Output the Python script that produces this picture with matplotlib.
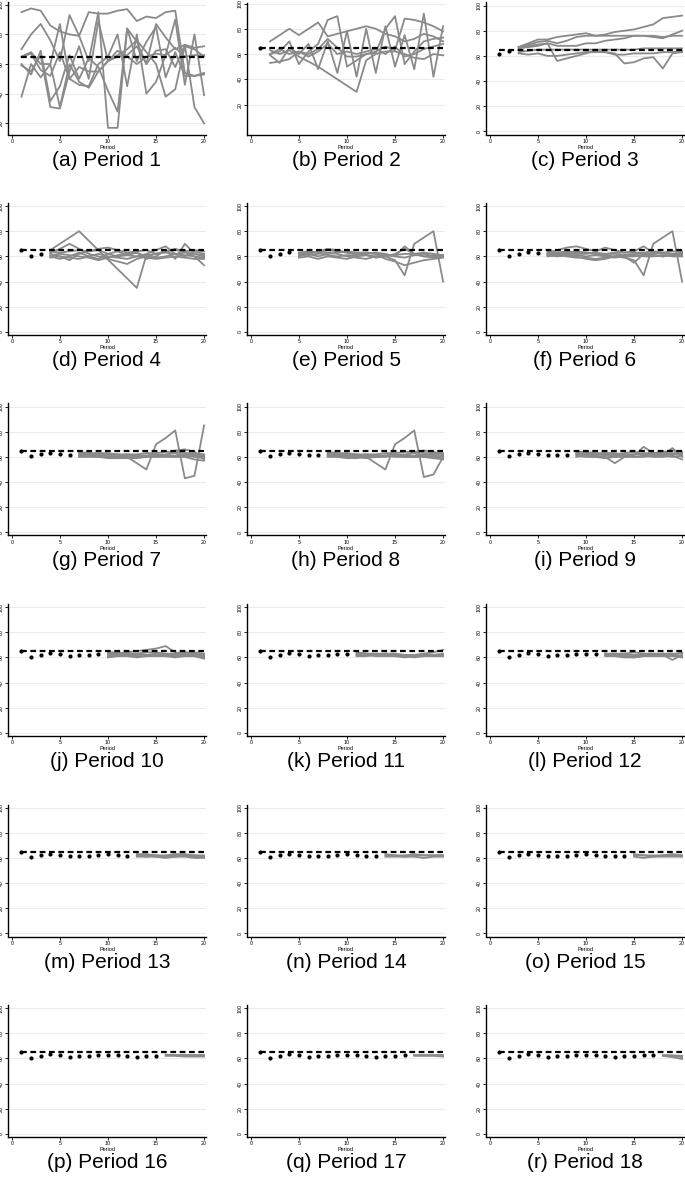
import matplotlib
matplotlib.use("Agg")
import matplotlib.pyplot as plt

plt.rcParams['font.family'] = ['Liberation Sans', 'DejaVu Sans']

periods = list(range(1, 21))
target = 65
realized = [65, 60.5, 62, 63.2, 62.7, 61.3, 61.9, 61.9, 62.7, 62.9, 62.4,
            61.9, 61.3, 61.9, 61.9, 62.4, 62.7]
realized_c = [61.6, 63.5]
letters = list("abcdefghijklmnopqr")

fc_p1 = [
    [95, 97.5, 96, 86, 82, 80, 79, 95, 94, 94, 96, 97, 89, 92, 91, 95, 96, 54, 52, 54],
    [70, 80, 87, 76, 62, 93, 79, 62, 95, 17, 17, 84, 75, 60, 87, 78, 70, 73, 71, 72],
    [65, 67, 56, 52, 68, 50, 46, 45, 60, 65, 80, 45, 80, 40, 48, 66, 90, 46, 80, 39],
    [60, 53, 69, 35, 45, 66, 50, 64, 58, 42, 28, 84, 62, 75, 85, 51, 68, 52, 52, 53],
    [38, 60, 51, 60, 31, 60, 48, 44, 55, 62, 66, 70, 76, 68, 60, 38, 43, 72, 70, 65],
    [59, 55, 66, 31, 30, 55, 72, 50, 89, 62, 65, 66, 72, 60, 69, 70, 58, 73, 31, 20],
    [65, 68, 60, 60, 87, 50, 58, 55, 55, 62, 69, 65, 60, 65, 67, 66, 71, 65, 66, 66],
]
fc_p2 = [
    [70, 75, 80, 75, 80, 85, 74, 76, 78, 80, 82, 80, 76, 74, 70, 72, 76, 74, 70],
    [60, 62, 70, 52, 62, 68, 87, 90, 50, 55, 60, 61, 80, 90, 52, 62, 70, 72, 73],
    [63, 60, 63, 58, 54, 50, 45, 40, 35, 30, 55, 60, 62, 62, 60, 57, 56, 60, 59],
    [59, 53, 65, 60, 68, 48, 70, 45, 78, 42, 80, 45, 82, 50, 75, 48, 92, 42, 82],
    [53, 54, 56, 62, 60, 64, 72, 65, 58, 58, 60, 62, 66, 63, 88, 87, 85, 82, 78],
    [60, 64, 60, 62, 58, 62, 68, 60, 62, 60, 62, 64, 60, 66, 58, 60, 64, 66, 68],
]
fc_p3 = [
    [67, 70, 73, 73, 75, 76, 77, 78, 76, 77, 79, 80, 81, 83, 85, 90, 91, 92],
    [67, 69, 71, 72, 70, 72, 75, 76, 76, 76, 76, 76, 76, 76, 76, 75, 76, 76],
    [66, 67, 68, 70, 68, 68, 68, 70, 70, 72, 73, 74, 76, 76, 75, 74, 77, 80],
    [67, 68, 69, 70, 56, 58, 60, 62, 64, 63, 62, 54, 55, 58, 59, 50, 62, 63],
    [62, 61, 62, 60, 60, 61, 62, 63, 63, 63, 61, 61, 62, 62, 62, 63, 63, 64],
    [63, 64, 65, 65, 65, 65, 65, 65, 65, 65, 65, 65, 65, 66, 66, 66, 66, 66],
]
fc_p4 = [
    [65, 70, 75, 80, 72.5, 65, 57.5, 50, 42.5, 35, 61, 62, 63, 62, 61, 60, 59],
    [63, 66, 70, 66, 62, 60, 58, 56, 54, 58, 60, 62, 64, 66, 64, 60, 53],
    [62, 60, 57, 62, 64, 65, 62, 60, 61, 63, 58, 60, 65, 58, 70, 62, 60],
    [60, 58, 60, 63, 60, 58, 62, 64, 61, 60, 62, 65, 68, 62, 63, 62, 61],
    [61, 62, 61, 60, 59, 57, 59, 61, 62, 63, 60, 59, 60, 62, 60, 64, 62],
    [64, 63, 64, 65, 64, 66, 67, 65, 63, 64, 65, 62, 64, 65, 64, 65, 64],
    [59, 60, 59, 58, 60, 62, 60, 59, 58, 60, 59, 58, 59, 60, 59, 58, 58],
]
fc_p5 = [
    [62, 63, 63, 65, 64, 63, 62, 61, 60, 60, 57, 45, 70, 75, 80, 40],
    [61, 62, 64, 66, 65, 63, 62, 62, 63, 62, 60, 68, 62, 60, 61, 60],
    [60, 62, 60, 62, 63, 64, 63, 63, 62, 58, 56, 53, 55, 57, 58, 59],
    [63, 64, 63, 61, 60, 61, 61, 63, 62, 61, 60, 59, 61, 62, 60, 61],
    [59, 60, 58, 60, 59, 58, 60, 61, 59, 60, 62, 66, 62, 60, 59, 60],
    [62, 61, 62, 63, 62, 60, 59, 58, 60, 61, 61, 62, 62, 63, 62, 61],
]
fc_p6 = [
    [62, 62, 63, 64, 63, 62, 61, 60, 59, 57, 45, 70, 75, 80, 40],
    [63, 65, 67, 68, 66, 64, 67, 65, 63, 64, 68, 63, 62, 62, 62],
    [61, 62, 61, 60, 58, 57, 58, 60, 60, 55, 62, 61, 60, 61, 61],
    [62, 63, 62, 62, 62, 63, 62, 62, 61, 62, 62, 62, 63, 62, 63],
    [60, 61, 60, 59, 59, 58, 59, 60, 61, 61, 60, 60, 61, 60, 60],
    [64, 63, 64, 63, 63, 62, 62, 63, 63, 63, 63, 64, 63, 64, 64],
    [61, 60, 61, 61, 60, 61, 60, 59, 60, 60, 61, 61, 60, 61, 61],
]
fc_p7 = [
    [62, 62, 61, 61, 60, 60, 55, 50, 70, 75, 81, 43, 45, 85],
    [63, 63, 62, 62, 62, 61, 61, 61, 62, 62, 63, 60, 58, 57],
    [61, 61, 60, 61, 60, 61, 60, 60, 60, 61, 60, 60, 61, 60],
    [62, 61, 61, 60, 60, 59, 59, 60, 61, 61, 65, 66, 64, 58],
    [60, 60, 60, 59, 59, 59, 60, 61, 60, 60, 60, 61, 60, 59],
    [64, 63, 63, 63, 62, 62, 62, 63, 63, 64, 64, 63, 63, 62],
    [61, 62, 61, 62, 61, 62, 61, 61, 62, 61, 61, 62, 62, 61],
]
fc_p8 = [
    [62, 62, 61, 61, 60, 55, 50, 70, 75, 81, 44, 46, 60],
    [63, 62, 62, 62, 61, 61, 61, 62, 62, 63, 60, 59, 58],
    [61, 61, 61, 60, 61, 60, 60, 61, 60, 60, 60, 61, 60],
    [62, 61, 60, 60, 59, 60, 61, 61, 61, 64, 65, 64, 62],
    [60, 60, 59, 59, 60, 60, 61, 60, 60, 60, 61, 60, 59],
    [64, 63, 63, 62, 62, 62, 63, 63, 64, 64, 63, 63, 63],
    [61, 61, 62, 61, 62, 61, 61, 62, 61, 61, 62, 62, 61],
]
fc_p9 = [
    [62, 62, 61, 60, 55, 60, 61, 68, 63, 62, 67, 60],
    [63, 63, 62, 62, 61, 61, 62, 62, 63, 64, 65, 64],
    [61, 60, 60, 61, 60, 60, 60, 61, 60, 60, 61, 58],
    [64, 64, 63, 63, 63, 62, 62, 63, 63, 63, 63, 63],
    [60, 61, 60, 59, 60, 61, 60, 60, 61, 61, 60, 61],
    [62, 62, 62, 63, 62, 63, 64, 62, 62, 62, 62, 62],
]
fc_p10 = [
    [63, 63, 64, 65, 66, 67, 69, 64, 63, 62, 61],
    [62, 62, 61, 62, 62, 61, 62, 62, 61, 61, 60],
    [64, 64, 63, 63, 64, 64, 63, 63, 64, 64, 63],
    [61, 61, 62, 61, 61, 62, 61, 61, 62, 61, 59],
    [63, 62, 62, 63, 62, 63, 62, 62, 62, 63, 62],
    [60, 61, 61, 60, 61, 61, 61, 60, 61, 61, 61],
]
fc_p11 = [
    [63, 63, 62, 62, 62, 61, 62, 63, 64, 66],
    [62, 62, 61, 61, 61, 60, 61, 61, 61, 61],
    [64, 63, 63, 63, 62, 62, 62, 62, 62, 62],
    [61, 61, 62, 62, 61, 61, 60, 61, 62, 63],
    [62, 62, 62, 63, 63, 62, 62, 62, 61, 61],
]
fc_p12 = [
    [62, 61, 60, 60, 61, 62, 62, 58, 62],
    [63, 62, 62, 62, 62, 62, 63, 63, 63],
    [61, 61, 61, 60, 61, 61, 61, 61, 60],
    [63, 63, 63, 64, 63, 63, 63, 62, 64],
    [62, 62, 61, 61, 62, 62, 62, 62, 61],
]
fc_p13 = [
    [62, 62, 61, 61, 61, 62, 62, 61],
    [61, 61, 61, 60, 61, 61, 60, 60],
    [63, 63, 62, 62, 63, 63, 62, 62],
    [62, 61, 62, 61, 62, 62, 61, 61],
]
fc_p14 = [
    [62, 62, 61, 62, 62, 62, 62],
    [61, 61, 61, 61, 60, 61, 61],
    [63, 62, 62, 63, 62, 62, 62],
]
fc_p15 = [
    [62, 62, 61, 62, 62, 62],
    [61, 60, 61, 61, 61, 61],
    [63, 62, 62, 62, 63, 62],
]
fc_p16 = [
    [62.5, 62.5, 62.5, 62.5, 62.5],
    [62, 62, 61.5, 61.5, 61.5],
    [63, 62.5, 62.5, 62, 62],
]
fc_p17 = [
    [62.5, 62.5, 62.5, 62.5],
    [62, 62, 62, 61.5],
]
fc_p18 = [
    [62.5, 62.5, 62],
    [62, 61, 59.5],
    [62.5, 62, 61],
]
forecasts = [fc_p1, fc_p2, fc_p3, fc_p4, fc_p5, fc_p6, fc_p7, fc_p8, fc_p9,
             fc_p10, fc_p11, fc_p12, fc_p13, fc_p14, fc_p15, fc_p16, fc_p17, fc_p18]

W, H = 685, 1182
fig = plt.figure(figsize=(W / 100, H / 100), dpi=100)

col_left = [8, 247, 486]
ax_w = 198
ax_h = 132
grid_col = '#e2eef0'
gray = '#8a8a8a'

for i in range(18):
    r, c = divmod(i, 3)
    k = i + 1
    bottom_px = 134.5 + 200.5 * r
    ax = fig.add_axes([col_left[c] / W, 1 - bottom_px / H, ax_w / W, ax_h / H])

    if k == 1:
        ylim = (12.5, 101.5)
        yt = [20, 40, 60, 80, 100]
    elif k == 2:
        ylim = (-3.7, 100.8)
        yt = [20, 40, 60, 80, 100]
    else:
        ylim = (-2.4, 102.4)
        yt = [0, 20, 40, 60, 80, 100]

    for y in yt:
        ax.axhline(y, color=grid_col, lw=0.8, zorder=0)

    xs = periods[k - 1:]
    for line in forecasts[i]:
        ax.plot(xs, line, color=gray, lw=1.3, zorder=2, solid_joinstyle='round')

    ax.plot([periods[0], periods[-1]], [target, target], color='black', lw=1.6,
            ls=(0, (2.6, 1.6)), zorder=3)

    if k == 3:
        dots_x, dots_y = periods[:2], realized_c
    else:
        dots_x, dots_y = periods[:k - 1], realized[:k - 1]
    if k == 2:
        dots_x, dots_y = [1], [target]
    if k >= 4:
        dots_y = [target] + realized[1:k - 1]
    if len(dots_x):
        ax.plot(dots_x, dots_y, 'o', color='black', ms=3.0, mew=0, zorder=4)

    ax.set_xlim(-0.4, 20.2)
    ax.set_ylim(*ylim)
    ax.set_xticks([0, 5, 10, 15, 20])
    ax.set_yticks(yt)
    ax.tick_params(axis='both', labelsize=3.8, length=2, width=0.6, pad=1.2,
                   colors='black')
    for lab in ax.get_yticklabels():
        lab.set_rotation(90)
        lab.set_va('center')
    ax.set_xlabel('Period', fontsize=4, labelpad=0.5)
    for s in ['top', 'right']:
        ax.spines[s].set_visible(False)
    for s in ['left', 'bottom']:
        ax.spines[s].set_linewidth(1.0)
    ax.set_facecolor('white')

    cx = (col_left[c] + ax_w / 2) / W
    cy = 1 - (bottom_px + 25.5) / H
    fig.text(cx, cy, f"({letters[i]}) Period {k}", ha='center', va='center',
             fontsize=15)

fig.savefig('out.png', dpi=100)
